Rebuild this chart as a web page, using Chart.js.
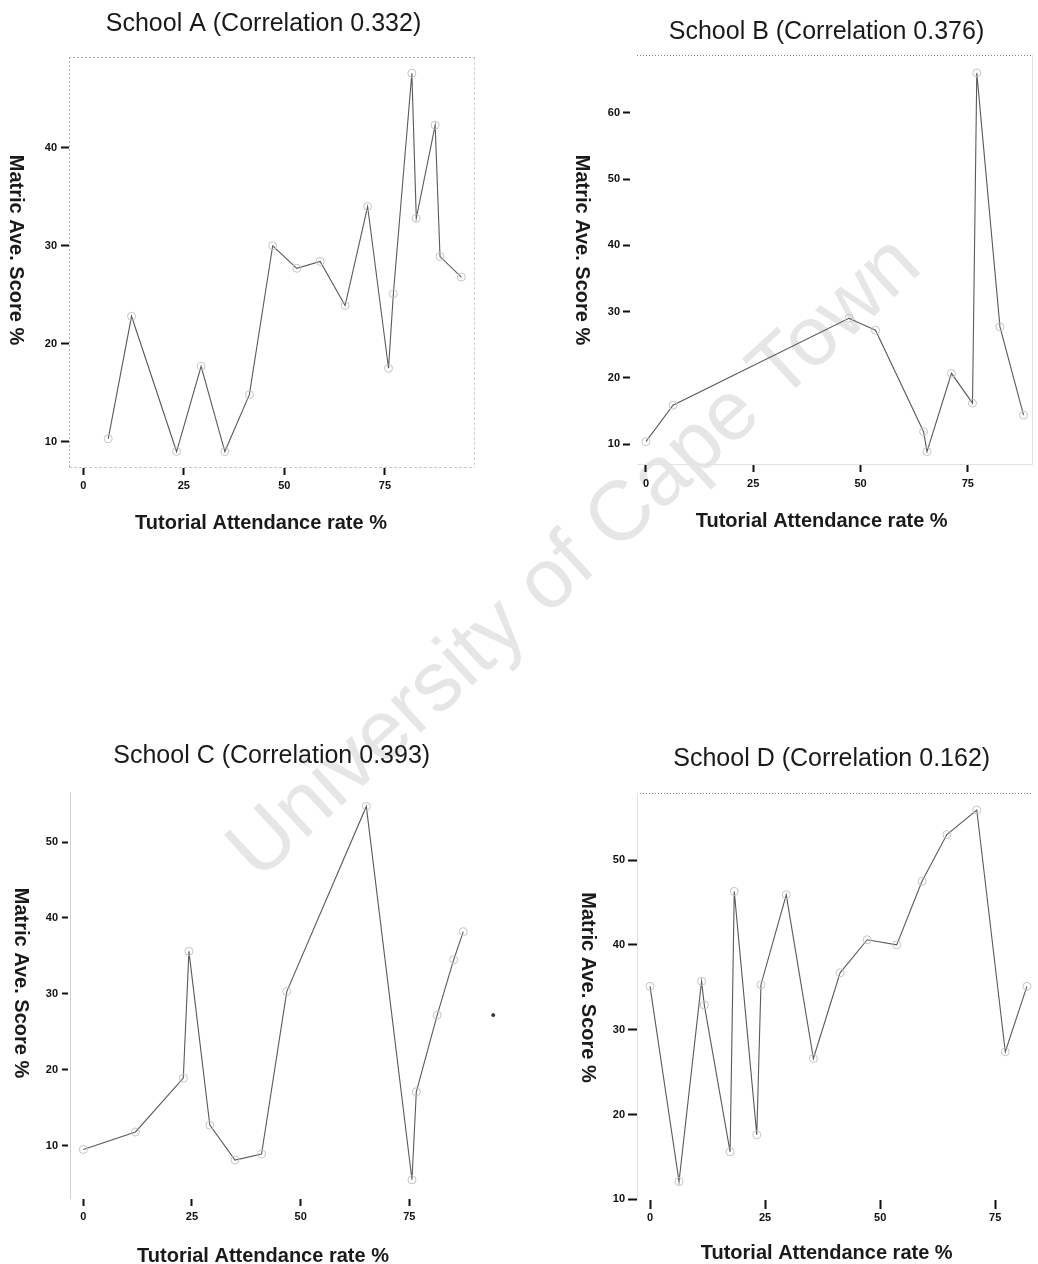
<!DOCTYPE html>
<html>
<head>
<meta charset="utf-8">
<script src="https://cdn.jsdelivr.net/npm/chart.js@4.4.1/dist/chart.umd.min.js"></script>
<style>
  body { margin: 0; background: #fff; width: 1038px; height: 1264px; position: relative; overflow: hidden; }
  .panel { position: absolute; width: 519px; height: 632px; }
  #wm { position: absolute; left: 572px; top: 555px; transform: translate(-50%, -50%) rotate(-42.6deg);
        font: 84px "Liberation Sans", Arial, sans-serif; color: #e6e6e6; white-space: nowrap; }
</style>
</head>
<body>
<div id="wm">University of Cape Town</div>
<canvas id="chartA" class="panel" width="519" height="632" style="left:0;top:0"></canvas>
<canvas id="chartB" class="panel" width="519" height="632" style="left:519px;top:0"></canvas>
<canvas id="chartC" class="panel" width="519" height="632" style="left:0;top:632px"></canvas>
<canvas id="chartD" class="panel" width="519" height="632" style="left:519px;top:632px"></canvas>
<script>
const xTitle = 'Tutorial Attendance rate %';
const yTitle = 'Matric Ave. Score %';
const xTicks = [0, 25, 50, 75];

const titleA = 'School A (Correlation 0.332)';
const attendA = [6.2, 12, 23.2, 29.3, 35.2, 41.3, 47.1, 53.1, 58.9, 65.1, 70.7, 75.9, 77.1, 81.7, 82.8, 87.5, 88.7, 94];
const scoreA = [10.3, 22.8, 9, 17.7, 9, 14.8, 30, 27.7, 28.4, 23.9, 34, 17.5, 25.1, 47.6, 32.8, 42.3, 28.9, 26.8];
const yTicksA = [10, 20, 30, 40];

const titleB = 'School B (Correlation 0.376)';
const attendB = [0, 6.3, 47.3, 53.5, 64.7, 65.5, 71.2, 76.1, 77.1, 82.5, 88];
const scoreB = [10.4, 15.9, 29, 27.2, 11.9, 8.9, 20.7, 16.2, 66, 27.7, 14.4];
const yTicksB = [10, 20, 30, 40, 50, 60];

const titleC = 'School C (Correlation 0.393)';
const attendC = [0, 12, 23, 24.3, 29.1, 34.9, 41, 46.8, 65.1, 75.6, 76.6, 81.4, 85.2, 87.4];
const scoreC = [9.5, 11.8, 18.9, 35.6, 12.7, 8.1, 8.9, 30.3, 54.7, 5.5, 17.1, 27.2, 34.5, 38.2];
const strayAttendC = [94.3];
const strayScoreC = [27.2];
const yTicksC = [10, 20, 30, 40, 50];

const titleD = 'School D (Correlation 0.162)';
const attendD = [0, 6.3, 11.2, 11.8, 17.4, 18.3, 23.2, 24.1, 29.6, 35.5, 41.3, 47.2, 53.6, 59.1, 64.5, 71, 77.2, 81.9];
const scoreD = [35.1, 12.1, 35.7, 32.9, 15.6, 46.3, 17.6, 35.3, 45.9, 26.6, 36.7, 40.6, 40, 47.5, 53, 55.9, 27.4, 35.1];
const yTicksD = [10, 20, 30, 40, 50];

// рамка и подписи осей
const decor = {
    id: 'decor',
    beforeDatasetsDraw(chart, args, o) {
        const ctx = chart.ctx;
        const a = chart.chartArea;
        ctx.save();
        ctx.lineWidth = 1;
        for (const s of o.frame) {
            ctx.strokeStyle = s.color;
            ctx.setLineDash(s.dash || []);
            ctx.beginPath();
            if (s.side === 'top') { ctx.moveTo(a.left, a.top + 0.5); ctx.lineTo(a.right, a.top + 0.5); }
            if (s.side === 'bottom') { ctx.moveTo(a.left, a.bottom - 0.5); ctx.lineTo(a.right, a.bottom - 0.5); }
            if (s.side === 'left') { ctx.moveTo(a.left + 0.5, a.top); ctx.lineTo(a.left + 0.5, a.bottom); }
            if (s.side === 'right') { ctx.moveTo(a.right - 0.5, a.top); ctx.lineTo(a.right - 0.5, a.bottom); }
            ctx.stroke();
        }
        ctx.restore();
    },
    afterDraw(chart, args, o) {
        const ctx = chart.ctx;
        ctx.save();
        ctx.fillStyle = '#1a1a1a';
        ctx.textAlign = 'center';
        ctx.textBaseline = 'alphabetic';
        ctx.font = '25px "Liberation Sans", Arial, sans-serif';
        ctx.fillText(o.title, o.titleAt[0], o.titleAt[1]);
        ctx.font = 'bold 20px "Liberation Sans", Arial, sans-serif';
        ctx.fillText(xTitle, o.xTitleAt[0], o.xTitleAt[1]);
        ctx.translate(o.yTitleAt[0], o.yTitleAt[1]);
        ctx.rotate(Math.PI / 2);
        ctx.textBaseline = 'middle';
        ctx.fillText(yTitle, 0, 0);
        ctx.restore();
    }
};

function points(xs, ys) {
    return xs.map((x, i) => ({ x: x, y: ys[i] }));
}

function drawSchool(id, p) {
    const tickFont = { family: '"Liberation Sans", Arial, sans-serif', size: 11, weight: 'bold' };
    const datasets = [{
        data: points(p.xs, p.ys),
        showLine: true,
        borderColor: '#5a5a5a',
        borderWidth: 1.1,
        pointRadius: 4,
        pointBorderColor: '#c4c4c4',
        pointBackgroundColor: 'rgba(0,0,0,0)',
        pointBorderWidth: 1
    }];
    if (p.extraXs) {
        datasets.push({
            data: points(p.extraXs, p.extraYs),
            showLine: false,
            pointRadius: 1.5,
            pointBorderColor: '#333',
            pointBackgroundColor: '#333'
        });
    }
    new Chart(document.getElementById(id), {
        type: 'scatter',
        data: { datasets: datasets },
        plugins: [decor],
        options: {
            responsive: false,
            animation: false,
            layout: { padding: p.padding },
            plugins: {
                legend: { display: false },
                tooltip: { enabled: false },
                decor: p.decor
            },
            scales: {
                x: {
                    type: 'linear',
                    min: p.xRange[0],
                    max: p.xRange[1],
                    afterFit: axis => { axis.height = 40; },
                    afterBuildTicks: axis => { axis.ticks = xTicks.map(v => ({ value: v })); },
                    border: { display: false },
                    grid: { drawOnChartArea: false, tickLength: p.xTick[0], tickWidth: 2, tickColor: '#111' },
                    ticks: { font: tickFont, color: '#111', padding: p.xTick[1], maxRotation: 0 }
                },
                y: {
                    type: 'linear',
                    min: p.yRange[0],
                    max: p.yRange[1],
                    afterFit: axis => { axis.width = 60; },
                    afterBuildTicks: axis => { axis.ticks = p.yTicks.map(v => ({ value: v })); },
                    border: { display: false },
                    grid: { drawOnChartArea: false, tickLength: p.yTick[0], tickWidth: 2, tickColor: '#111',
                            tickBorderDash: p.yTick[2] || [] },
                    ticks: { font: tickFont, color: '#111', padding: p.yTick[1] }
                }
            }
        }
    });
}

drawSchool('chartA', {
    xs: attendA, ys: scoreA, yTicks: yTicksA,
    xRange: [-3.55, 97.4], yRange: [7.32, 49.26],
    padding: { left: 9, top: 57, right: 44, bottom: 124 },
    xTick: [7, 4], yTick: [8, 4],
    decor: {
        title: titleA, titleAt: [263.5, 31], xTitleAt: [261, 529], yTitleAt: [16, 250],
        frame: [
            { side: 'top', color: '#a8a8a8', dash: [2, 2] },
            { side: 'bottom', color: '#c8c8c8', dash: [3, 2] },
            { side: 'left', color: '#b0b0b0', dash: [2, 2] },
            { side: 'right', color: '#d0d0d0', dash: [3, 2] }
        ]
    }
});

drawSchool('chartB', {
    xs: attendB, ys: scoreB, yTicks: yTicksB,
    xRange: [-2.09, 90.2], yRange: [6.88, 68.7],
    padding: { left: 58, top: 55, right: 3, bottom: 127 },
    xTick: [7, 5], yTick: [14, 3, [7, 20]],
    decor: {
        title: titleB, titleAt: [826.5 - 519, 39.3], xTitleAt: [821.7 - 519, 526.5], yTitleAt: [582 - 519, 250],
        frame: [
            { side: 'top', color: '#8a8a8a', dash: [1, 2] },
            { side: 'bottom', color: '#e2e2e2' },
            { side: 'right', color: '#e2e2e2' }
        ]
    }
});

drawSchool('chartC', {
    xs: attendC, ys: scoreC, yTicks: yTicksC,
    extraXs: strayAttendC, extraYs: strayScoreC,
    xRange: [-3.06, 97], yRange: [2.97, 56.6],
    padding: { left: 10, top: 160, right: 14, bottom: 25 },
    xTick: [7, 4], yTick: [8, 4, [6, 10]],
    decor: {
        title: titleC, titleAt: [271.7, 763.3 - 632], xTitleAt: [263, 1262 - 632], yTitleAt: [21, 983 - 632],
        frame: [
            { side: 'left', color: '#d2d2d2' }
        ]
    }
});

drawSchool('chartD', {
    xs: attendD, ys: scoreD, yTicks: yTicksD,
    xRange: [-2.83, 83], yRange: [9.92, 57.9],
    padding: { left: 58, top: 161, right: 6, bottom: 24 },
    xTick: [9, 2], yTick: [9, 3],
    decor: {
        title: titleD, titleAt: [831.7 - 519, 766.3 - 632], xTitleAt: [826.7 - 519, 1259 - 632], yTitleAt: [588 - 519, 987.5 - 632],
        frame: [
            { side: 'top', color: '#8a8a8a', dash: [1, 2] },
            { side: 'left', color: '#e2e2e2' }
        ]
    }
});
</script>
</body>
</html>
